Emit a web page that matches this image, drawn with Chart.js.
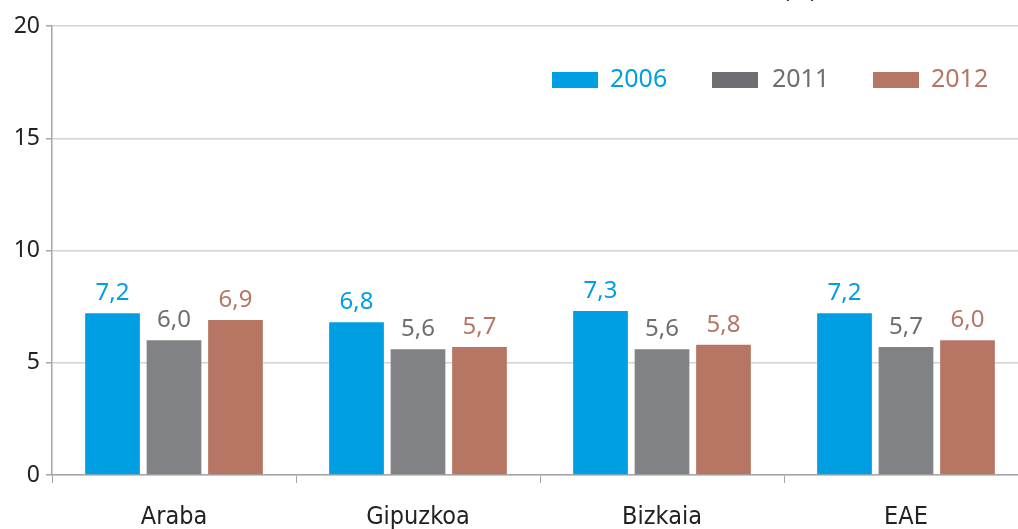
<!DOCTYPE html>
<html>
<head>
<meta charset="utf-8">
<script src="https://cdn.jsdelivr.net/npm/chart.js@4/dist/chart.umd.min.js"></script>
<style>
    html, body { margin: 0; padding: 0; background: #fff; overflow: hidden; }
    #wrap { position: absolute; left: 0; top: -20px; width: 1030px; height: 560px; }
</style>
</head>
<body>
<div id="wrap"><canvas id="barChart"></canvas></div>
<script>
const categories = ["Araba", "Gipuzkoa", "Bizkaia", "EAE"];
const years = ["2006", "2011", "2012"];
const values2006 = [7.2, 6.8, 7.3, 7.2];
const values2011 = [6.0, 5.6, 5.6, 5.7];
const values2012 = [6.9, 5.7, 5.8, 6.0];
const yTicks = [0, 5, 10, 15, 20];

const barColors = ["#009fe3", "#808285", "#b67663"];
const textColors = ["#009fe3", "#6d6e71", "#b67663"];
const swatchColors = ["#009fe3", "#6d6e71", "#b67663"];

const OFFSET_Y = 20; // wrapper is shifted up by this much

const valueLabels = {
    id: "valueLabels",
    afterDatasetsDraw(chart) {
        const ctx = chart.ctx;
        ctx.save();
        ctx.font = "24px 'Noto Sans'";
        ctx.textAlign = "center";
        ctx.textBaseline = "alphabetic";
        chart.data.datasets.forEach((ds, i) => {
            const meta = chart.getDatasetMeta(i);
            ctx.fillStyle = textColors[i];
            meta.data.forEach((bar, j) => {
                const txt = ds.data[j].toFixed(1).replace(".", ",");
                ctx.fillText(txt, bar.x, bar.y - 13);
            });
        });
        ctx.restore();
    },
};

const topNote = {
    id: "topNote",
    afterDraw(chart) {
        const ctx = chart.ctx;
        ctx.save();
        ctx.font = "24px 'Noto Sans'";
        ctx.fillStyle = "#333";
        ctx.textAlign = "center";
        ctx.textBaseline = "alphabetic";
        ctx.fillText("(%)", 800, OFFSET_Y - 3);

        // legend
        const swatchX = [552, 712, 873];
        const textX = [610, 772, 931];
        ctx.font = "25px 'Noto Sans'";
        ctx.textAlign = "left";
        years.forEach((y, i) => {
            ctx.fillStyle = swatchColors[i];
            ctx.fillRect(swatchX[i], 72 + OFFSET_Y, 46, 16);
            ctx.fillStyle = textColors[i];
            ctx.fillText(y, textX[i], 87 + OFFSET_Y);
        });
        ctx.restore();
    },
};

new Chart(document.getElementById("barChart").getContext("2d"), {
    type: "bar",
    data: {
        labels: categories,
        datasets: [
            { label: years[0], data: values2006, backgroundColor: barColors[0] },
            { label: years[1], data: values2011, backgroundColor: barColors[1] },
            { label: years[2], data: values2012, backgroundColor: barColors[2] },
        ],
    },
    options: {
        responsive: true,
        maintainAspectRatio: false,
        animation: false,
        datasets: { bar: { categoryPercentage: 0.756, barPercentage: 0.89 } },
        layout: { padding: { top: 46, right: 2, left: 0, bottom: 0 } },
        plugins: { legend: { display: false }, tooltip: { enabled: false } },
        scales: {
            x: {
                grid: { drawOnChartArea: false, drawTicks: true, tickLength: 8, color: "#a6a6a6" },
                border: { color: "#a6a6a6", width: 1.5 },
                ticks: {
                    color: "#222",
                    padding: 19,
                    font: { family: "'DejaVu Sans Condensed', 'Liberation Sans'", size: 25 },
                },
                afterFit(s) { s.height = 65; },
            },
            y: {
                min: 0,
                max: 20,
                afterBuildTicks(s) { s.ticks = yTicks.map(v => ({ value: v })); },
                grid: { color: "#d4d4d4", tickColor: "#a6a6a6", tickLength: 6, lineWidth: 1.5 },
                border: { color: "#a6a6a6", width: 1.5 },
                ticks: {
                    color: "#222",
                    padding: 6,
                    font: { family: "'Noto Sans'", size: 23 },
                },
                afterFit(s) { s.width = 52; },
            },
        },
    },
    plugins: [valueLabels, topNote],
});
</script>
</body>
</html>
